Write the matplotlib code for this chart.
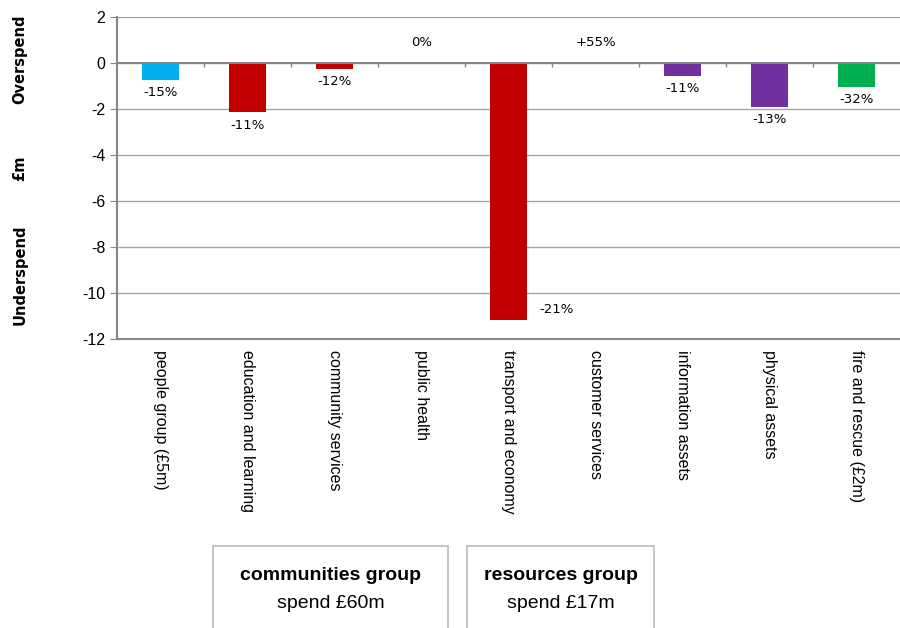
import numpy as np
import matplotlib
matplotlib.use("Agg")
from matplotlib import pyplot as plt
from matplotlib.patches import Rectangle

plt.rcParams["axes.unicode_minus"] = False

# data
categories = ["people group (£5m)", "education and learning", "community services",
              "public health", "transport and economy", "customer services",
              "information assets", "physical assets", "fire and rescue (£2m)"]
variance = [-0.75, -2.15, -0.25, 0.0, -11.15, 0.0, -0.55, -1.9, -1.05]
pct_labels = ["-15%", "-11%", "-12%", "0%", "-21%", "+55%", "-11%", "-13%", "-32%"]
bar_colors = ["#00B0F0", "#C00000", "#C00000", "#C00000", "#C00000",
              "#7030A0", "#7030A0", "#7030A0", "#00B050"]
groups = [("communities group", "spend £60m"), ("resources group", "spend £17m")]

fig = plt.figure(figsize=(9, 6.28), dpi=100)
ax = fig.add_axes([0.130, 0.460, 0.870, 0.513])

x = np.arange(len(categories))
ax.bar(x, variance, width=0.42, color=bar_colors, zorder=3)

ax.set_xlim(-0.5, len(categories) - 0.5)
ax.set_ylim(-12, 2)
ax.set_yticks(np.arange(-12, 3, 2))
ax.tick_params(axis="y", length=5, color="#868686", labelsize=11.5)
for lbl in ax.get_yticklabels():
    lbl.set_family("Liberation Sans")
ax.yaxis.grid(True, color="#A6A6A6", linewidth=1.0, zorder=0)

ax.set_xticks(x)
ax.set_xticklabels(categories, rotation=270, va="top", ha="center",
                   family="Liberation Sans", fontsize=11.5)
ax.tick_params(axis="x", length=0, pad=8)

for s in ["top", "right"]:
    ax.spines[s].set_visible(False)
for s in ["left", "bottom"]:
    ax.spines[s].set_color("#868686")
    ax.spines[s].set_linewidth(1.5)

# category axis at zero with tick marks between categories
ax.axhline(0, color="#868686", linewidth=1.5, zorder=4)
ax.vlines(x[:-1] + 0.5, -0.18, 0, color="#868686", linewidth=1.0, zorder=4)

# percentage labels
for i, (v, t) in enumerate(zip(variance, pct_labels)):
    if v == 0:
        ax.text(i, 0.9, t, ha="center", va="center", fontsize=9.5, family="DejaVu Sans")
    elif i == 4:
        ax.text(i + 0.55, v + 0.45, t, ha="center", va="center", fontsize=9.5,
                family="DejaVu Sans")
    else:
        ax.text(i, v - 0.55, t, ha="center", va="center", fontsize=9.5,
                family="DejaVu Sans")

# left side labels
fig.text(0.022, 0.906, "Overspend", rotation=90, ha="center", va="center",
         fontsize=10.5, fontweight="bold", family="DejaVu Sans")
fig.text(0.022, 0.732, "£m", rotation=90, ha="center", va="center",
         fontsize=10.5, fontweight="bold", family="DejaVu Sans")
fig.text(0.022, 0.562, "Underspend", rotation=90, ha="center", va="center",
         fontsize=10.5, fontweight="bold", family="DejaVu Sans")

# group boxes
boxes = [(213 / 900, 448 / 900), (467 / 900, 654 / 900)]
for (x0, x1), (title, sub) in zip(boxes, groups):
    fig.patches.append(Rectangle((x0, -0.05), x1 - x0, 0.05 + (628 - 546) / 628,
                                 transform=fig.transFigure, facecolor="white",
                                 edgecolor="#BFBFBF", linewidth=1.3))
    xc = (x0 + x1) / 2
    fig.text(xc, 1 - 575 / 628, title, ha="center", va="center", fontsize=14,
             fontweight="bold", family="Liberation Sans")
    fig.text(xc, 1 - 603 / 628, sub, ha="center", va="center", fontsize=14,
             family="Liberation Sans")

fig.savefig("out.png", dpi=100)
